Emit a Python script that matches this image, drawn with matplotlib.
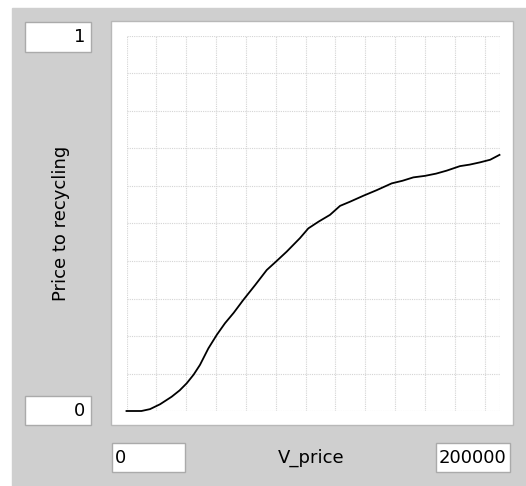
import numpy as np
import matplotlib.pyplot as plt
from matplotlib.patches import Rectangle

# data
v_price = [0, 8000, 12600, 18000, 24200, 28500, 32300, 36000, 39400, 43900,
           48400, 52800, 57500, 62600, 69000, 75200, 80500, 85900, 93000, 97500,
           103000, 109100, 114500, 119800, 127000, 134200, 142200, 148000,
           153800, 160000, 166000, 171700, 178800, 184000, 189500, 195000, 200000]
price_to_recycling = [0.0, 0.0, 0.005, 0.018, 0.038, 0.055, 0.074, 0.097, 0.123, 0.167,
                      0.203, 0.234, 0.262, 0.296, 0.336, 0.376, 0.400, 0.425, 0.461, 0.487,
                      0.505, 0.523, 0.547, 0.558, 0.574, 0.589, 0.607, 0.614,
                      0.623, 0.627, 0.633, 0.641, 0.653, 0.657, 0.663, 0.670, 0.683]
x_min_label, x_max_label = '0', '200000'
y_min_label, y_max_label = '0', '1'

W, H = 526, 486
BG = '#cfcfcf'
EDGE = '#aaaaaa'


def frac(x0, y0, x1, y1):
    # pixel box (top-left origin) -> figure fraction (left, bottom, width, height)
    return (x0 / W, 1 - y1 / H, (x1 - x0) / W, (y1 - y0) / H)


def box(x0, y0, x1, y1, fc='white', ec=EDGE):
    l, b, w, h = frac(x0, y0, x1, y1)
    fig.patches.append(Rectangle((l, b), w, h, transform=fig.transFigure,
                                 facecolor=fc, edgecolor=ec, linewidth=1.0, zorder=-5))


fig = plt.figure(figsize=(W / 100, H / 100), dpi=100, facecolor='white')

# grey panel and white plot frame
box(12, 8, 527, 487, fc=BG, ec=BG)
box(111, 21, 512.5, 424.5, fc='white', ec='#b8b8b8')

ax = fig.add_axes(frac(126.5, 36, 499.5, 411))
ax.set_facecolor('none')
ax.set_zorder(2)
ax.plot(v_price, price_to_recycling, color='black', lw=1.3, clip_on=False, zorder=3)
ax.set_xlim(0, 200000)
ax.set_ylim(0, 1)
ax.set_xticks(list(np.arange(0, 200000, 16000)) + [200000])
ax.set_yticks(np.linspace(0, 1, 11))
ax.tick_params(length=0, labelbottom=False, labelleft=False)
ax.grid(True, color='#d4d4d4', linestyle=(0, (1, 1)), linewidth=0.8)
for s in ax.spines.values():
    s.set_visible(False)

# value boxes
fs = 13
box(25, 21.7, 90.7, 51.7)
fig.text(85 / W, 1 - 37 / H, y_max_label, ha='right', va='center', fontsize=fs)
box(25, 395.7, 91, 425)
fig.text(85.5 / W, 1 - 410.5 / H, y_min_label, ha='right', va='center', fontsize=fs)
box(112.3, 442.7, 185, 472.3)
fig.text(114.5 / W, 1 - 457.5 / H, x_min_label, ha='left', va='center', fontsize=fs)
box(435.7, 443, 510, 472)
fig.text(506 / W, 1 - 457.5 / H, x_max_label, ha='right', va='center', fontsize=fs)

fig.text(311 / W, 1 - 458 / H, 'V_price', ha='center', va='center', fontsize=fs)
fig.text(61.5 / W, 1 - 223 / H, 'Price to recycling', ha='center', va='center',
         rotation=90, fontsize=fs)

fig.savefig('out.png', dpi=100)
